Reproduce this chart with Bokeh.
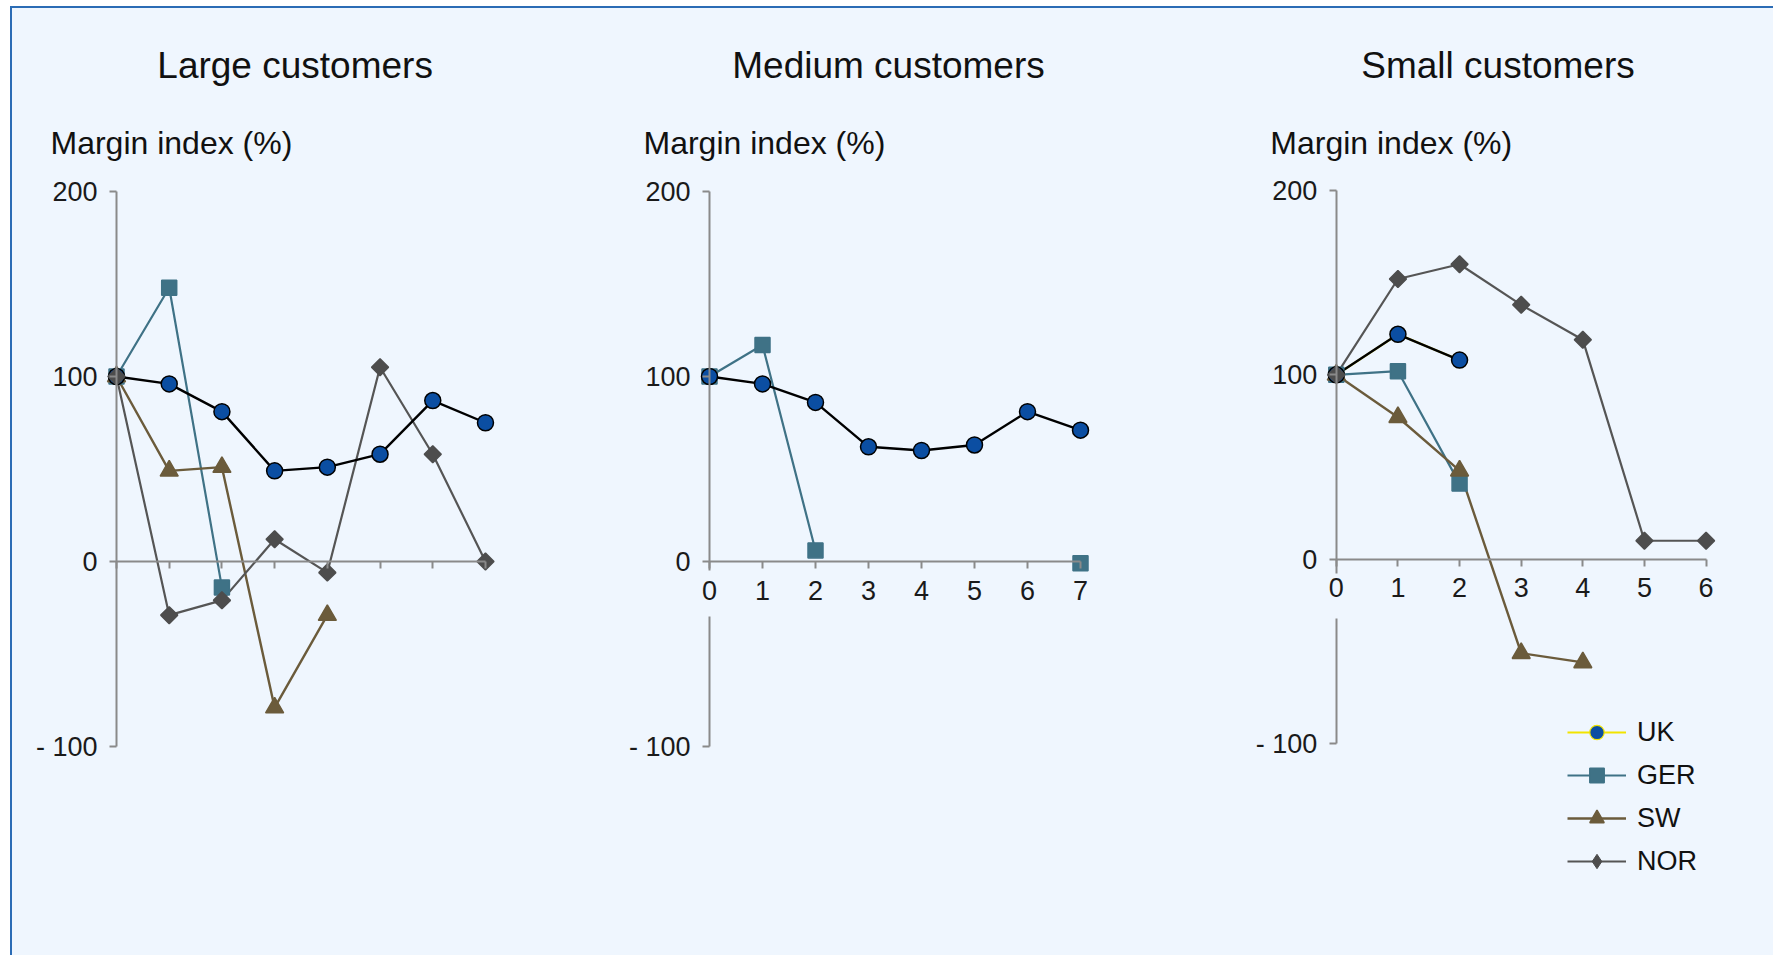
import math
from bokeh.plotting import figure
from bokeh.layouts import row
from bokeh.models import Range1d, LinearAxis, FixedTicker, Label, Legend, LegendItem
from bokeh.embed import file_html
from bokeh.resources import INLINE

nan = float("nan")

# ---------------- data ----------------
panel_titles = ["Large customers", "Medium customers", "Small customers"]
y_title = "Margin index (%)"
y_ticks = [-100, 0, 100, 200]
y_tick_text = {-100: "- 100", 0: "0", 100: "100", 200: "200"}
series_names = ["UK", "GER", "SW", "NOR"]

large_uk = [100, 96, 81, 49, 51, 58, 87, 75]
large_ger = [100, 148, -14]
large_sw = [100, 49, 51, -79, -29]
large_nor = [100, -29, -21, 12, -6, 105, 58, 0]

medium_uk = [100, 96, 86, 62, 60, 63, 81, 71]
medium_ger = [100, 117, 6, nan, nan, nan, nan, -1]

small_uk = [100, 122, 108]
small_ger = [100, 102, 41]
small_sw = [100, 77, 48, -51, -56]
small_nor = [100, 152, 160, 138, 119, 10, 10]

# ---------------- style ----------------
BG = "#EFF6FE"
BORDER = "#2B6CB5"
AXIS = "#8A8A8A"
FONT = "Liberation Sans"
STYLE = {
    "UK": dict(line="#000000", marker="circle", size=16, fill="#0B4EA2", edge="#000000", lw=2.4, angle=0.0),
    "GER": dict(line="#3F7286", marker="square", size=15, fill="#3F7286", edge="#3F7286", lw=2.2, angle=0.0),
    "SW": dict(line="#6B5B3B", marker="triangle", size=18, fill="#6B5B3B", edge="#6B5B3B", lw=2.4, angle=0.0),
    "NOR": dict(line="#555555", marker="square", size=12, fill="#4D4D4D", edge="#4D4D4D", lw=2.2, angle=math.pi / 4),
}
LEGEND_UK_LINE = "#F2E400"

# page placement: border at (10, 6), figures start at (12, 8)
ORIGIN_X, ORIGIN_Y = 12, 8
H = 947
# geometry in page pixels: figure width, page x of x=0, px per x unit,
# page y of y=0, px per y unit, gap in the y axis (page y)
PANELS = [
    dict(width=590, ax=116.0, xs=52.71, ay=561.0, ys=1.85, nx=7, labels=False, gap=None, tdx=178.6),
    dict(width=590, ax=709.0, xs=53.0, ay=561.0, ys=1.85, nx=7, labels=True, gap=(570.0, 616.0), tdx=179.0),
    dict(width=581, ax=1335.8, xs=61.63, ay=558.7, ys=1.8435, nx=6, labels=True, gap=(573.0, 618.0), tdx=161.7),
]
TITLE_Y, SUB_Y = 64.5, 142.5

panel_series = [
    {"UK": large_uk, "GER": large_ger, "SW": large_sw, "NOR": large_nor},
    {"UK": medium_uk, "GER": medium_ger},
    {"UK": small_uk, "GER": small_ger, "SW": small_sw, "NOR": small_nor},
]


def style_axis(ax):
    ax.axis_line_color = AXIS
    ax.axis_line_width = 2
    ax.major_tick_line_color = AXIS
    ax.major_tick_line_width = 2
    ax.major_tick_out = 7
    ax.major_tick_in = 0
    ax.minor_tick_line_color = None
    ax.major_label_text_font = FONT
    ax.major_label_text_font_size = "27px"
    ax.major_label_text_color = "#1A1A1A"
    ax.major_label_standoff = 12


def make_panel(i, left):
    g = PANELS[i]
    W, xs, ys = g["width"], g["xs"], g["ys"]
    x0 = g["ax"] - left          # px inside figure
    y0 = g["ay"] - ORIGIN_Y
    p = figure(width=W, height=H,
               x_range=Range1d(-x0 / xs, (W - x0) / xs),
               y_range=Range1d(-(H - y0) / ys, y0 / ys),
               output_backend="svg", toolbar_location=None,
               x_axis_location=None, y_axis_location=None,
               min_border=0, background_fill_color=BG, border_fill_color=BG,
               outline_line_color=None)
    p.grid.visible = False

    def dy(page_y):
        return (g["ay"] - page_y) / ys

    # x axis at y = 0
    xt = list(range(g["nx"] + 1))
    xa = LinearAxis(ticker=FixedTicker(ticks=xt), bounds=(0, g["nx"]), fixed_location=0)
    style_axis(xa)
    if not g["labels"]:
        xa.major_label_overrides = {t: "" for t in xt}
    p.add_layout(xa, "below")

    # y axis at x = 0
    if g["gap"] is None:
        ya = LinearAxis(ticker=FixedTicker(ticks=y_ticks), bounds=(-100, 200), fixed_location=0,
                        major_label_overrides=y_tick_text)
        style_axis(ya)
        p.add_layout(ya, "left")
    else:
        ya1 = LinearAxis(ticker=FixedTicker(ticks=[t for t in y_ticks if t >= 0]),
                         bounds=(dy(g["gap"][0]), 200), fixed_location=0,
                         major_label_overrides=y_tick_text)
        ya2 = LinearAxis(ticker=FixedTicker(ticks=[t for t in y_ticks if t < 0]),
                         bounds=(-100, dy(g["gap"][1])), fixed_location=0,
                         major_label_overrides=y_tick_text)
        style_axis(ya1)
        style_axis(ya2)
        p.add_layout(ya1, "left")
        p.add_layout(ya2, "left")

    # titles
    p.add_layout(Label(x=g["tdx"] / xs, y=dy(TITLE_Y), text=panel_titles[i],
                       text_font=FONT, text_font_size="37px", text_color="#111111",
                       text_align="center", text_baseline="middle"))
    p.add_layout(Label(x=-66 / xs, y=dy(SUB_Y), text=y_title,
                       text_font=FONT, text_font_size="32px", text_color="#111111",
                       text_align="left", text_baseline="middle"))

    data = panel_series[i]
    rend = {}
    # legend-style renderers drawn underneath the plotted series (fully covered by them)
    if i == 2:
        uk = data["UK"]
        st = STYLE["UK"]
        rend["UK_leg_line"] = p.line(list(range(len(uk))), uk, line_color=LEGEND_UK_LINE, line_width=2)
        rend["UK_leg_mark"] = p.scatter(list(range(len(uk))), uk, marker="circle", size=st["size"] - 1,
                                        fill_color=st["fill"], line_color=LEGEND_UK_LINE, line_width=1.2)
        nor = data["NOR"]
        st = STYLE["NOR"]
        rend["NOR_leg_mark"] = p.scatter(list(range(len(nor))), nor, marker="diamond", size=15,
                                         fill_color=st["fill"], line_color=st["edge"], line_width=1)
    for name in ["GER", "SW", "NOR", "UK"]:
        if name in data:
            vals = data[name]
            st = STYLE[name]
            rend[name + "_line"] = p.line(list(range(len(vals))), vals, line_color=st["line"],
                                          line_width=st["lw"])
    for name in ["GER", "SW", "UK", "NOR"]:
        if name in data:
            vals = data[name]
            st = STYLE[name]
            rend[name + "_mark"] = p.scatter(list(range(len(vals))), vals, marker=st["marker"],
                                             size=st["size"], fill_color=st["fill"],
                                             line_color=st["edge"], line_width=1.5, angle=st["angle"])
    return p, rend


figs = []
left = ORIGIN_X
rends = None
for i in range(3):
    f, r = make_panel(i, left)
    figs.append(f)
    rends = r
    left += PANELS[i]["width"]

# legend in the last panel
items = [
    LegendItem(label="UK", renderers=[rends["UK_leg_line"], rends["UK_leg_mark"]]),
    LegendItem(label="GER", renderers=[rends["GER_line"], rends["GER_mark"]]),
    LegendItem(label="SW", renderers=[rends["SW_line"], rends["SW_mark"]]),
    LegendItem(label="NOR", renderers=[rends["NOR_line"], rends["NOR_leg_mark"]]),
]
legend = Legend(items=items, location="bottom_right", margin=76, padding=10, spacing=7,
                glyph_width=59, glyph_height=36, label_height=30, label_standoff=11,
                label_text_font=FONT, label_text_font_size="27px", label_text_color="#111111",
                background_fill_alpha=0, border_line_color=None)
figs[2].add_layout(legend)

layout = row(*figs, margin=(6, 0, 0, 10),
             styles={"border-top": "2px solid " + BORDER,
                     "border-left": "2px solid " + BORDER,
                     "background-color": BG})

open("out.html", "w").write(file_html(layout, INLINE, "Margin index"))
